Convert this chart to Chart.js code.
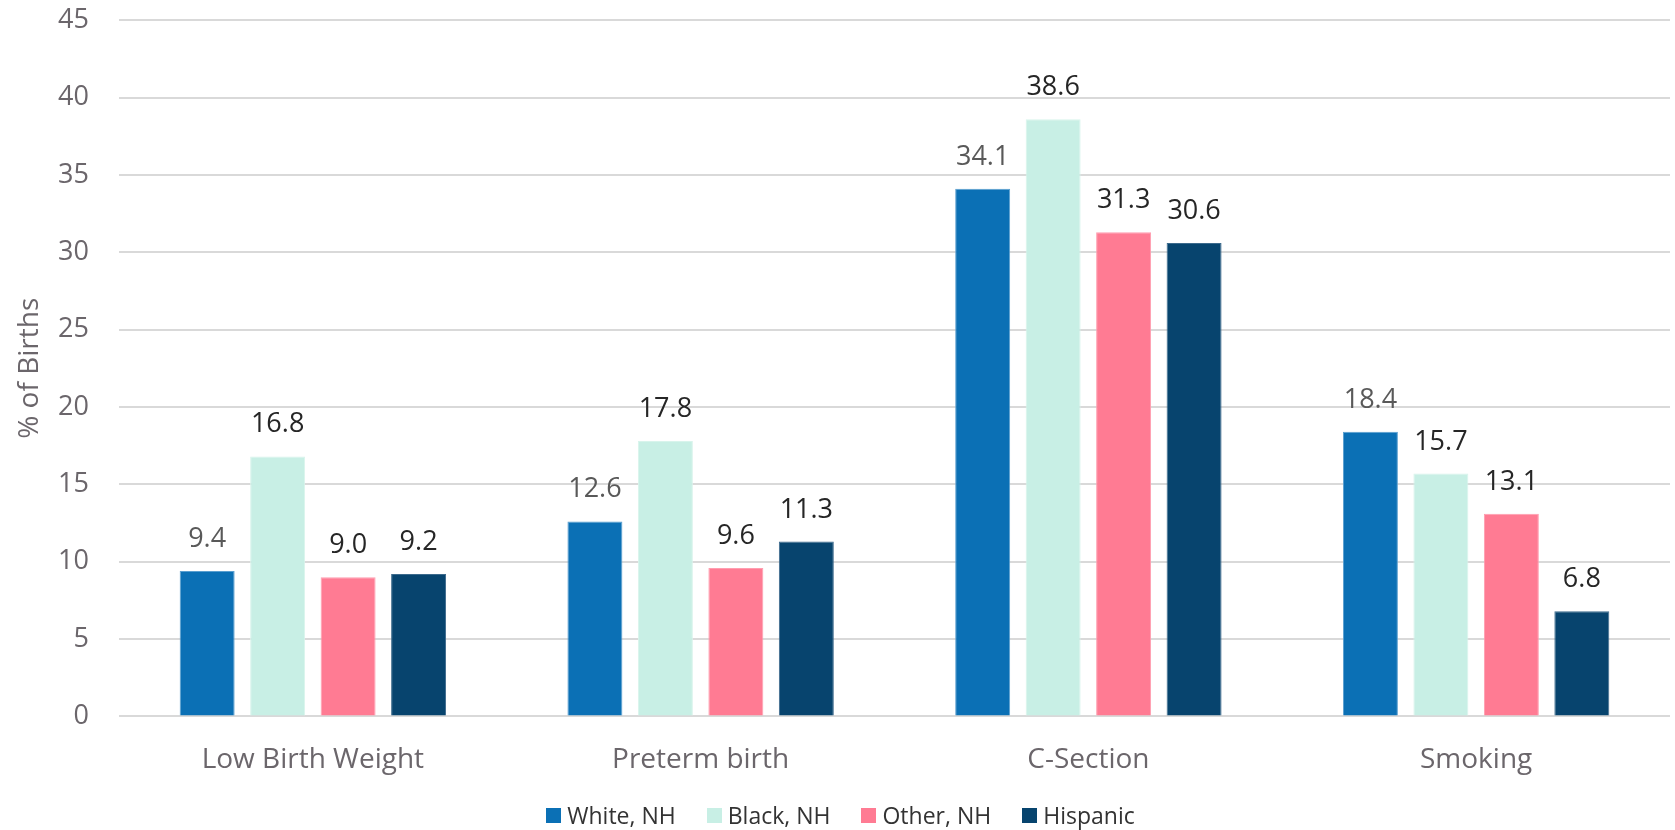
<!DOCTYPE html>
<html>
<head>
<meta charset="utf-8">
<script src="https://cdn.jsdelivr.net/npm/chart.js@4/dist/chart.umd.min.js"></script>
<style>
  html, body { margin: 0; padding: 0; background: #fff; }
  #wrap { position: relative; width: 1675px; height: 830px; }
  #legend {
    position: absolute; left: 0; width: 1681px; top: 801px; height: 28px;
    display: flex; justify-content: center; align-items: center;
    font-family: 'Open Sans', 'Liberation Sans', sans-serif; font-size: 23px; line-height: 28px; color: #333;
  }
  .legend-item { display: flex; align-items: center; margin-right: 31px; white-space: nowrap; }
  .legend-item:last-child { margin-right: 0; }
  .legend-box { width: 15px; height: 15px; margin-right: 6px; }
</style>
</head>
<body>
<div id="wrap">
  <canvas id="chart" width="1675" height="830"></canvas>
  <div id="legend"></div>
</div>
<script>
const categories = ["Low Birth Weight", "Preterm birth", "C-Section", "Smoking"];
const series_names = ["White, NH", "Black, NH", "Other, NH", "Hispanic"];
const white_nh = [9.4, 12.6, 34.1, 18.4];
const black_nh = [16.8, 17.8, 38.6, 15.7];
const other_nh = [9.0, 9.6, 31.3, 13.1];
const hispanic = [9.2, 11.3, 30.6, 6.8];
const y_ticks = [0, 5, 10, 15, 20, 25, 30, 35, 40, 45];

const font_family = "'Open Sans', 'Liberation Sans', sans-serif";
const bar_colors = ["#0B70B5", "#C8EFE5", "#FF7B93", "#07446E"];
const border_colors = ["#5A9FD0", "#D8F4EC", "#FF9DAF", "#3C6A8C"];
const label_colors = ["#595959", "#262626", "#262626", "#262626"];

// draws the value above each bar, one decimal
const valueLabels = {
    id: "valueLabels",
    afterDatasetsDraw(chart){
        const ctx = chart.ctx;
        ctx.save();
        ctx.font = "27px " + font_family;
        ctx.textAlign = "center";
        ctx.textBaseline = "alphabetic";
        chart.data.datasets.forEach(function(ds, i){
            const meta = chart.getDatasetMeta(i);
            ctx.fillStyle = label_colors[i];
            meta.data.forEach(function(bar, j){
                ctx.fillText(ds.data[j].toFixed(1), bar.x, bar.y - 24);
            });
        });
        ctx.restore();
    }
};

// html legend built from the chart's own legend items
const htmlLegend = {
    id: "htmlLegend",
    afterUpdate(chart){
        const box = document.getElementById("legend");
        box.innerHTML = "";
        const items = chart.options.plugins.legend.labels.generateLabels(chart);
        items.forEach(function(item){
            const el = document.createElement("div");
            el.className = "legend-item";
            const sw = document.createElement("span");
            sw.className = "legend-box";
            sw.style.background = item.fillStyle;
            const txt = document.createElement("span");
            txt.textContent = item.text;
            el.appendChild(sw);
            el.appendChild(txt);
            box.appendChild(el);
        });
    }
};

const all_values = [white_nh, black_nh, other_nh, hispanic];
const datasets = [];
for(let i in all_values){
    datasets.push({
        label: series_names[i],
        data: all_values[i],
        backgroundColor: bar_colors[i],
        borderColor: border_colors[i],
        borderWidth: 1,
        categoryPercentage: 0.727,
        barPercentage: 0.78
    });
}

new Chart(document.getElementById("chart").getContext("2d"), {
    type: "bar",
    data: { labels: categories, datasets: datasets },
    options: {
        responsive: false,
        animation: false,
        layout: { padding: { top: 0, right: 5, left: 13, bottom: 34 } },
        plugins: {
            tooltip: { enabled: false },
            legend: { display: false }
        },
        scales: {
            x: {
                grid: { display: false },
                border: { display: false },
                ticks: { color: "#6B666B", font: { family: font_family, size: 28 }, padding: 19 }
            },
            y: {
                min: 0,
                max: 45,
                afterBuildTicks: function(axis){
                    axis.ticks = y_ticks.map(function(v){ return { value: v }; });
                },
                afterFit: function(axis){ axis.width = 106; },
                grid: { color: "#D9D9D9", lineWidth: 2, drawTicks: true, tickLength: 26, tickColor: "rgba(0,0,0,0)" },
                border: { display: false },
                ticks: { color: "#6B666B", font: { family: font_family, size: 27 }, padding: 4 },
                title: {
                    display: true,
                    text: "% of Births",
                    color: "#6B666B",
                    font: { family: font_family, size: 28 },
                    padding: 0
                }
            }
        }
    },
    plugins: [valueLabels, htmlLegend]
});
</script>
</body>
</html>
